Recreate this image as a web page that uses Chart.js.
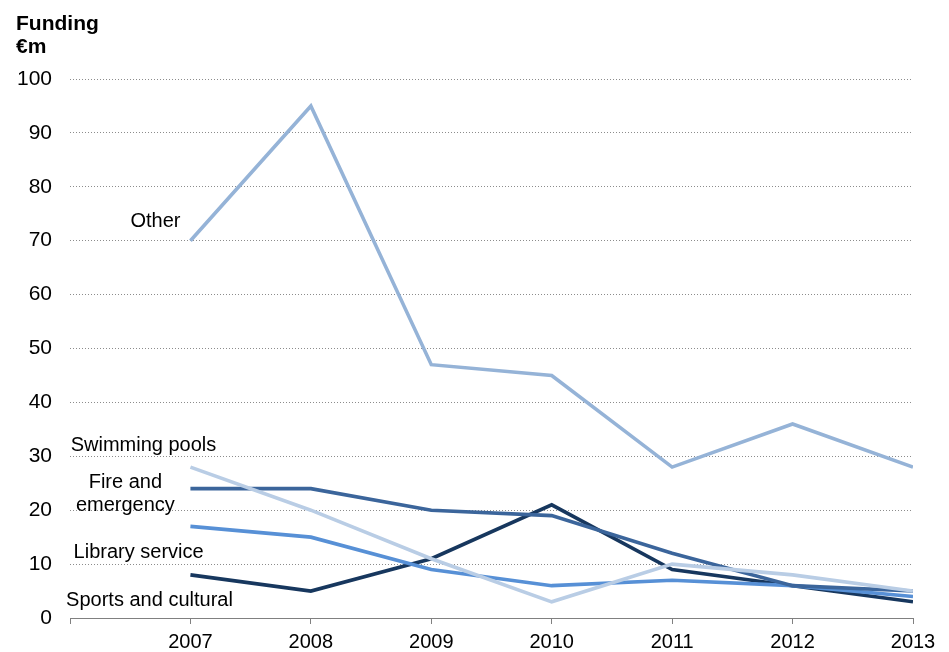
<!DOCTYPE html>
<html>
<head>
<meta charset="utf-8">
<script src="https://cdn.jsdelivr.net/npm/chart.js@4.4.1/dist/chart.umd.min.js"></script>
<style>
  html, body { margin: 0; padding: 0; background: #fff; }
  #wrap { width: 949px; height: 652px; position: relative; }
</style>
</head>
<body>
<div id="wrap"><canvas id="fundingChart" width="949" height="652"></canvas></div>
<script>
// Funding by service, €m
const years = [2007, 2008, 2009, 2010, 2011, 2012, 2013];
const other = [70, 95, 47, 45, 28, 36, 28];
const swimmingPools = [28, 20, 11, 3, 10, 8, 5];
const fireEmergency = [24, 24, 20, 19, 12, 6, 5];
const libraryService = [17, 15, 9, 6, 7, 6, 4];
const sportsCultural = [8, 5, 11, 21, 9, 6, 3];
const yTicks = [0, 10, 20, 30, 40, 50, 60, 70, 80, 90, 100];

const FONT = '"Liberation Sans", Arial, sans-serif';

// series names drawn next to the start of each line (x in years, y in €m)
const seriesLabels = [
    { lines: ['Other'], x: 2006.71, y: 73.6 },
    { lines: ['Swimming pools'], x: 2006.61, y: 32.0 },
    { lines: ['Fire and', 'emergency'], x: 2006.46, y: 25.1 },
    { lines: ['Library service'], x: 2006.57, y: 12.1 },
    { lines: ['Sports and cultural'], x: 2006.66, y: 3.3 }
];

function toPoints(values) {
    return values.map((v, i) => ({ x: years[i], y: v }));
}

const labelPlugin = {
    id: 'seriesLabels',
    afterDraw(chart) {
        const ctx = chart.ctx;
        const xs = chart.scales.x;
        const ys = chart.scales.y;
        ctx.save();
        ctx.fillStyle = '#000';
        ctx.textAlign = 'center';
        ctx.textBaseline = 'middle';
        ctx.font = '20px ' + FONT;
        seriesLabels.forEach(lbl => {
            const px = xs.getPixelForValue(lbl.x);
            const py = ys.getPixelForValue(lbl.y);
            lbl.lines.forEach((line, i) => ctx.fillText(line, px, py + i * 23));
        });
        // axis title, top left
        ctx.textAlign = 'left';
        ctx.textBaseline = 'alphabetic';
        ctx.font = 'bold 21px ' + FONT;
        ctx.fillText('Funding', 16, 30);
        ctx.fillText('€m', 16, 53);
        ctx.restore();
    }
};

const lineStyle = { borderWidth: 3.6, pointRadius: 0, tension: 0, fill: false };

new Chart(document.getElementById('fundingChart'), {
    type: 'line',
    data: {
        datasets: [
            { label: 'Other', data: toPoints(other), borderColor: '#95b3d7', ...lineStyle },
            { label: 'Swimming pools', data: toPoints(swimmingPools), borderColor: '#b9cde5', ...lineStyle },
            { label: 'Fire and emergency', data: toPoints(fireEmergency), borderColor: '#3b659b', ...lineStyle },
            { label: 'Library service', data: toPoints(libraryService), borderColor: '#5790d6', ...lineStyle },
            { label: 'Sports and cultural', data: toPoints(sportsCultural), borderColor: '#17375e', ...lineStyle }
        ]
    },
    options: {
        responsive: false,
        animation: false,
        layout: { padding: { top: 79, right: 36, left: 0, bottom: 0 } },
        plugins: {
            legend: { display: false },
            tooltip: { enabled: false }
        },
        scales: {
            x: {
                type: 'linear',
                min: 2006,
                max: 2013,
                afterBuildTicks: scale => {
                    scale.ticks = [2006].concat(years).map(v => ({ value: v }));
                },
                afterFit: scale => { scale.height = 34; },
                ticks: {
                    color: '#000',
                    font: { family: FONT, size: 20 },
                    padding: 6,
                    maxRotation: 0,
                    callback: v => (v === 2006 ? '' : String(v))
                },
                grid: {
                    drawOnChartArea: false,
                    drawTicks: true,
                    tickLength: 6,
                    tickColor: '#808080'
                },
                border: { display: true, color: '#808080', width: 1 }
            },
            y: {
                min: 0,
                max: 100,
                afterBuildTicks: scale => {
                    scale.ticks = yTicks.map(v => ({ value: v }));
                },
                afterFit: scale => { scale.width = 70; },
                ticks: {
                    color: '#000',
                    font: { family: FONT, size: 21 },
                    padding: 18
                },
                grid: {
                    drawTicks: false,
                    color: ctx => (ctx.tick && ctx.tick.value === 0 ? 'rgba(0,0,0,0)' : '#8c8c8c'),
                    lineWidth: 1
                },
                border: { display: false, dash: [1, 2] }
            }
        }
    },
    plugins: [labelPlugin]
});
</script>
</body>
</html>
